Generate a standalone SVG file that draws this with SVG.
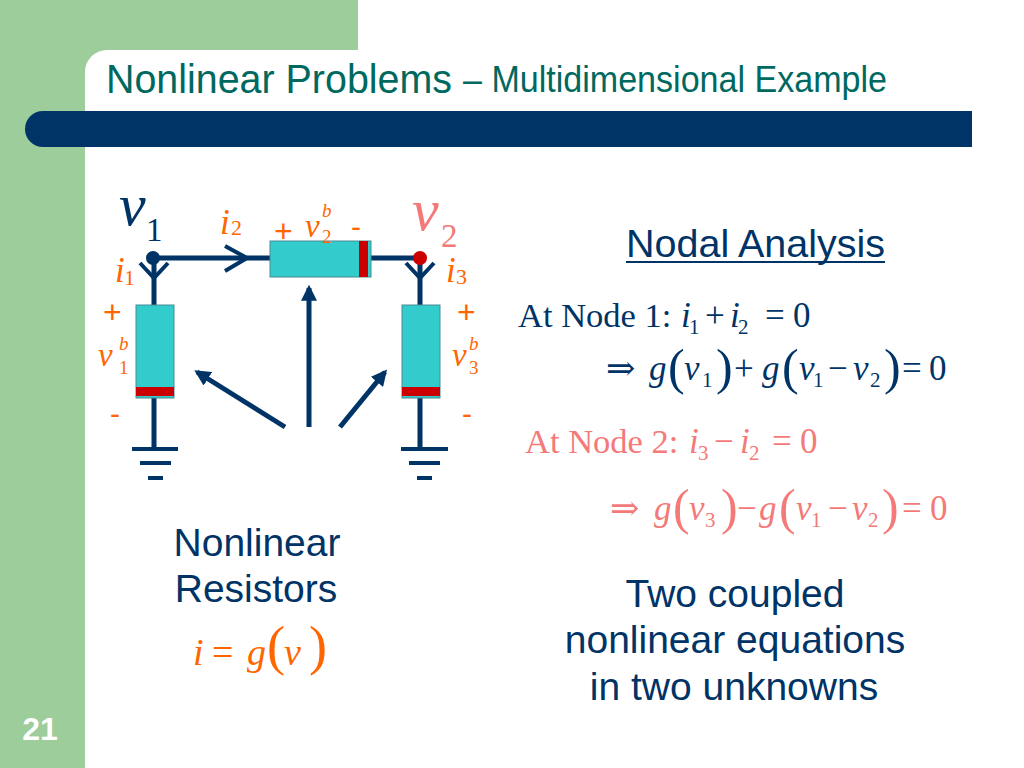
<svg xmlns="http://www.w3.org/2000/svg" width="1024" height="768" viewBox="0 0 1024 768">
<defs>
<style>
.sans{font-family:"Liberation Sans",Arial,sans-serif}
.serif{font-family:"Liberation Serif","DejaVu Serif",serif}
.it{font-style:italic}
.blue{fill:#003366}
.org{fill:#ff6600}
.pink{fill:#f47a7a}
.wire{stroke:#003366;stroke-width:5;fill:none}
.gnd{stroke:#003366;stroke-width:4;fill:none}
.chev{stroke:#003366;stroke-width:4;fill:none;stroke-linejoin:miter}
.res{fill:#33cccc;stroke:#4a8a96;stroke-width:1}
.band{fill:#cc0000}
.ptr{stroke:#003366;stroke-width:5;fill:none}
</style>
<marker id="ah" viewBox="0 0 10 10" refX="8" refY="5" markerWidth="3.2" markerHeight="3.2" orient="auto" markerUnits="strokeWidth">
<path d="M0,0 L10,5 L0,10 Z" fill="#003366"/>
</marker>
</defs>
<rect width="1024" height="768" fill="#ffffff"/>
<g id="background">
<rect x="0" y="0" width="358" height="80" fill="#9dcd9b"/>
<rect x="0" y="0" width="85" height="768" fill="#9dcd9b"/>
<rect x="85" y="50" width="1000" height="800" rx="22" ry="22" fill="#ffffff"/>
<path d="M43,111 H972 V147 H43 A18,18 0 0 1 43,111 Z" fill="#003366"/>
</g>
<g id="title">
<text x="106" y="93" class="sans" font-size="41" fill="#00695f" textLength="346" lengthAdjust="spacingAndGlyphs">Nonlinear Problems</text>
<text x="463" y="92" class="sans" font-size="36" fill="#00695f" textLength="424" lengthAdjust="spacingAndGlyphs">– Multidimensional Example</text>
</g>
<g id="page-number">
<text x="40" y="740" class="sans" font-size="32" font-weight="bold" fill="#ffffff" text-anchor="middle">21</text>
</g>
<g id="connectors">
<path class="wire" d="M153,258 H270 M371,258 H420"/>
<path class="wire" d="M154,258 V305 M154,398 V449"/>
<path class="wire" d="M420,258 V305 M420,398 V449"/>
<polyline class="chev" points="225,246 247,258 225,271"/>
<polyline class="chev" points="140,263 154,278 168,263"/>
<polyline class="chev" points="406,263 420,278 434,263"/>
<line class="ptr" x1="285" y1="427" x2="197" y2="372" marker-end="url(#ah)"/>
<line class="ptr" x1="309" y1="427" x2="309" y2="288" marker-end="url(#ah)"/>
<line class="ptr" x1="340" y1="427" x2="385" y2="372" marker-end="url(#ah)"/>
</g>
<g id="node1">
<circle cx="153" cy="258" r="7" fill="#003366"/>
<text x="119" y="225" class="serif it blue" font-size="60">v</text>
<text x="146" y="241" class="serif blue" font-size="33">1</text>
</g>
<g id="node2">
<circle cx="420" cy="258" r="7" fill="#cc0000"/>
<text x="412" y="230" class="serif it pink" font-size="60">v</text>
<text x="441" y="247" class="serif pink" font-size="33">2</text>
</g>
<g id="resistor2">
<rect class="res" x="270" y="241" width="101" height="36"/>
<rect class="band" x="359" y="241" width="9" height="36"/>
<text x="220" y="234" class="serif it org" font-size="35">i</text>
<text x="231" y="235" class="serif org" font-size="22">2</text>
<text x="274" y="242" class="sans org" font-size="32">+</text>
<text x="305" y="237" class="serif it org" font-size="33">v</text>
<text x="322" y="217" class="serif it org" font-size="19">b</text>
<text x="322" y="243" class="serif org" font-size="19">2</text>
<text x="351" y="237" class="sans org" font-size="30">-</text>
</g>
<g id="resistor1">
<rect class="res" x="136" y="305" width="38" height="93"/>
<rect class="band" x="136" y="387" width="38" height="9"/>
<text x="115" y="282" class="serif it org" font-size="35">i</text>
<text x="124" y="285" class="serif org" font-size="22">1</text>
<text x="103" y="323" class="sans org" font-size="32">+</text>
<text x="98" y="366" class="serif it org" font-size="33">v</text>
<text x="119" y="350" class="serif it org" font-size="19">b</text>
<text x="119" y="374" class="serif org" font-size="19">1</text>
<text x="110" y="424" class="sans org" font-size="30">-</text>
</g>
<g id="resistor3">
<rect class="res" x="402" y="305" width="38" height="93"/>
<rect class="band" x="402" y="387" width="38" height="9"/>
<text x="446" y="282" class="serif it org" font-size="35">i</text>
<text x="456" y="284" class="serif org" font-size="22">3</text>
<text x="457" y="323" class="sans org" font-size="32">+</text>
<text x="452" y="366" class="serif it org" font-size="33">v</text>
<text x="469" y="350" class="serif it org" font-size="19">b</text>
<text x="469" y="374" class="serif org" font-size="19">3</text>
<text x="462" y="424" class="sans org" font-size="30">-</text>
</g>
<g id="ground1">
<path class="gnd" d="M132,449 H178 M140,463 H171 M148,478 H163"/>
</g>
<g id="ground2">
<path class="gnd" d="M401,449 H448 M409,463 H440 M417,478 H432"/>
</g>
<g id="nonlinear-resistors-label">
<text x="257" y="556" class="sans blue" font-size="39" text-anchor="middle">Nonlinear</text>
<text x="256" y="602" class="sans blue" font-size="39" text-anchor="middle">Resistors</text>
<text x="193" y="665" class="serif it org" font-size="38">i</text>
<text x="212" y="665" class="serif org" font-size="38">=</text>
<text x="247" y="665" class="serif it org" font-size="38">g</text>
<text x="267" y="664" class="serif org" font-size="54">(</text>
<text x="284" y="665" class="serif it org" font-size="38">v</text>
<text x="309" y="664" class="serif org" font-size="54">)</text>
</g>
<g id="nodal-analysis">
<text x="626" y="257" class="sans blue" font-size="39" textLength="259" lengthAdjust="spacingAndGlyphs">Nodal Analysis</text>
<line x1="626" y1="262" x2="885" y2="262" stroke="#003366" stroke-width="2"/>
</g>
<g id="node1-equation" class="blue">
<text x="518" y="327" class="serif" font-size="34.5">At Node 1:</text>
<text x="681" y="327" class="serif it" font-size="35">i</text>
<text x="689" y="334" class="serif" font-size="21">1</text>
<text x="705" y="327" class="serif" font-size="35">+</text>
<text x="730" y="327" class="serif it" font-size="35">i</text>
<text x="738" y="334" class="serif" font-size="21">2</text>
<text x="765" y="327" class="serif" font-size="35">=</text>
<text x="793" y="327" class="serif" font-size="35">0</text>
<text x="606" y="380" class="serif" font-size="35">⇒</text>
<text x="649" y="380" class="serif it" font-size="35">g</text>
<text x="668" y="384" class="serif" font-size="50">(</text>
<text x="684" y="380" class="serif it" font-size="35">v</text>
<text x="702" y="387" class="serif" font-size="21">1</text>
<text x="716" y="384" class="serif" font-size="50">)</text>
<text x="734" y="380" class="serif" font-size="35">+</text>
<text x="762" y="380" class="serif it" font-size="35">g</text>
<text x="782" y="384" class="serif" font-size="50">(</text>
<text x="799" y="380" class="serif it" font-size="35">v</text>
<text x="813" y="387" class="serif" font-size="21">1</text>
<text x="828" y="380" class="serif" font-size="35">−</text>
<text x="853" y="380" class="serif it" font-size="35">v</text>
<text x="870" y="387" class="serif" font-size="21">2</text>
<text x="884" y="384" class="serif" font-size="50">)</text>
<text x="902" y="380" class="serif" font-size="35">=</text>
<text x="929" y="380" class="serif" font-size="35">0</text>
</g>
<g id="node2-equation" class="pink">
<text x="525" y="453" class="serif" font-size="34.5">At Node 2:</text>
<text x="689" y="453" class="serif it" font-size="35">i</text>
<text x="698" y="460" class="serif" font-size="21">3</text>
<text x="714" y="453" class="serif" font-size="35">−</text>
<text x="740" y="453" class="serif it" font-size="35">i</text>
<text x="749" y="460" class="serif" font-size="21">2</text>
<text x="772" y="453" class="serif" font-size="35">=</text>
<text x="800" y="453" class="serif" font-size="35">0</text>
<text x="610" y="520" class="serif" font-size="35">⇒</text>
<text x="654" y="520" class="serif it" font-size="35">g</text>
<text x="673" y="524" class="serif" font-size="50">(</text>
<text x="689" y="520" class="serif it" font-size="35">v</text>
<text x="705" y="527" class="serif" font-size="21">3</text>
<text x="721" y="524" class="serif" font-size="50">)</text>
<text x="737" y="520" class="serif" font-size="35">−</text>
<text x="759" y="520" class="serif it" font-size="35">g</text>
<text x="779" y="524" class="serif" font-size="50">(</text>
<text x="796" y="520" class="serif it" font-size="35">v</text>
<text x="811" y="527" class="serif" font-size="21">1</text>
<text x="828" y="520" class="serif" font-size="35">−</text>
<text x="852" y="520" class="serif it" font-size="35">v</text>
<text x="868" y="527" class="serif" font-size="21">2</text>
<text x="882" y="524" class="serif" font-size="50">)</text>
<text x="902" y="520" class="serif" font-size="35">=</text>
<text x="930" y="520" class="serif" font-size="35">0</text>
</g>
<g id="conclusion" class="blue">
<text x="735" y="607" class="sans" font-size="39" text-anchor="middle">Two coupled</text>
<text x="735" y="653" class="sans" font-size="39" text-anchor="middle">nonlinear equations</text>
<text x="734" y="700" class="sans" font-size="39" text-anchor="middle">in two unknowns</text>
</g>
</svg>
